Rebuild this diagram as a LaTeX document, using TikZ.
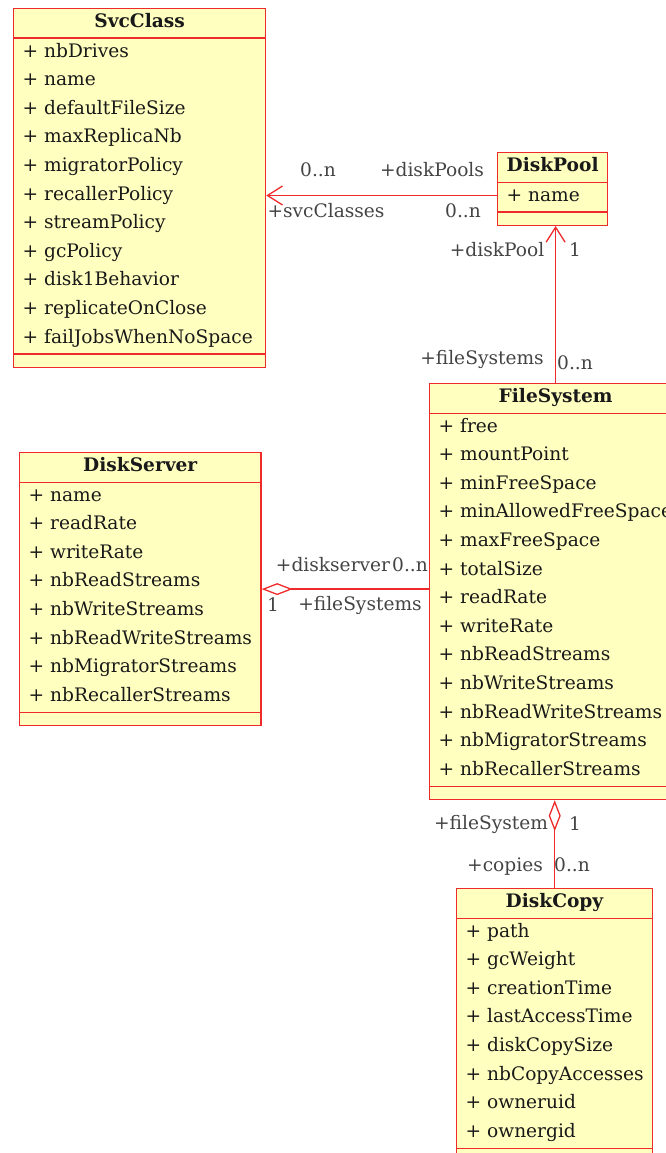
\documentclass[tikz,border=0pt]{standalone}
\usepackage{fontspec}
\setmainfont{DejaVu Serif}
\usetikzlibrary{shapes.multipart,arrows.meta}
\definecolor{umlfill}{HTML}{FFFFC0}
\definecolor{umlline}{HTML}{EE2A2A}
\definecolor{umllabel}{HTML}{444444}
\newcommand{\fld}[1]{\rule[-10.4pt]{0pt}{28.6pt}+ #1}
\newcommand{\cname}[1]{\rule[-10.4pt]{0pt}{28.2pt}\textbf{#1}}
\begin{document}
\begin{tikzpicture}[x=1pt,y=-1pt,
  umlclass/.style={rectangle split,rectangle split parts=3,draw=umlline,fill=umlfill,
    line width=1.3pt,anchor=north west,inner xsep=9pt,inner ysep=0pt,align=left,
    rectangle split part align={center,left,left},
    rectangle split empty part height=12pt,rectangle split empty part depth=0pt,
    text=black!90,font=\fontsize{18.6}{28.6}\selectfont},
  role/.style={text=umllabel,inner sep=0pt,font=\fontsize{18.6}{20}\selectfont},
  assoc/.style={draw=umlline,line width=1.3pt},
  nav/.style={-{Straight Barb[length=15pt,width=19pt]}},
  aggr/.style={{Diamond[open,length=31pt,width=12pt]}-}]
\useasboundingbox (0,0) rectangle (666,1153);
% classes
\node at (13,8) [umlclass,minimum width=252pt] (svc) {\cname{SvcClass}
  \nodepart{two}\fld{nbDrives}\\ \fld{name}\\ \fld{defaultFileSize}\\ \fld{maxReplicaNb}\\
  \fld{migratorPolicy}\\ \fld{recallerPolicy}\\ \fld{streamPolicy}\\ \fld{gcPolicy}\\
  \fld{disk1Behavior}\\ \fld{replicateOnClose}\\ \fld{failJobsWhenNoSpace}};
\node at (497,152) [umlclass,minimum width=104pt] (pool) {\cname{DiskPool}
  \nodepart{two}\fld{name}};
\node at (429,383) [umlclass,minimum width=252pt] (fs) {\cname{FileSystem}
  \nodepart{two}\fld{free}\\ \fld{mountPoint}\\ \fld{minFreeSpace}\\ \fld{minAllowedFreeSpace}\\
  \fld{maxFreeSpace}\\ \fld{totalSize}\\ \fld{readRate}\\ \fld{writeRate}\\
  \fld{nbReadStreams}\\ \fld{nbWriteStreams}\\ \fld{nbReadWriteStreams}\\
  \fld{nbMigratorStreams}\\ \fld{nbRecallerStreams}};
\node at (19,452) [umlclass,minimum width=240pt] (srv) {\cname{DiskServer}
  \nodepart{two}\fld{name}\\ \fld{readRate}\\ \fld{writeRate}\\ \fld{nbReadStreams}\\
  \fld{nbWriteStreams}\\ \fld{nbReadWriteStreams}\\ \fld{nbMigratorStreams}\\
  \fld{nbRecallerStreams}};
\node at (456,888) [umlclass,minimum width=193pt] (copy) {\cname{DiskCopy}
  \nodepart{two}\fld{path}\\ \fld{gcWeight}\\ \fld{creationTime}\\ \fld{lastAccessTime}\\
  \fld{diskCopySize}\\ \fld{nbCopyAccesses}\\ \fld{owneruid}\\ \fld{ownergid}};
% links
\coordinate (poolw) at ([yshift=-6.5pt]pool.west);
\coordinate (pools) at ([xshift=3pt]pool.south);
\draw[assoc,nav] (poolw) -- (poolw -| svc.east);
\draw[assoc,nav] (pools |- fs.north) -- (pools);
\draw[assoc,aggr] (srv.east) -- (srv.east -| fs.west);
\draw[assoc,aggr] (copy.north |- fs.south) -- (copy.north);
% roles
\node at (318,170) [role] (r1) {0..n};
\node at (432,170) [role] (r2) {+diskPools};
\node at (326,211) [role] (r3) {+svcClasses};
\node at (463,211) [role] (r4) {0..n};
\node at (497,250) [role] (r5) {+diskPool};
\node at (575,250) [role] (r6) {1};
\node at (482,359) [role] (r7) {+fileSystems};
\node at (575,363) [role] (r8) {0..n};
\node at (333,565) [role] (r9) {+diskserver};
\node at (410,565) [role] (r10) {0..n};
\node at (273,605) [role] (r11) {1};
\node at (360,605) [role] (r12) {+fileSystems};
\node at (491,824) [role] (r13) {+fileSystem};
\node at (575,824) [role] (r14) {1};
\node at (505,867) [role] (r15) {+copies};
\node at (572,865) [role] (r16) {0..n};
\end{tikzpicture}
\end{document}
